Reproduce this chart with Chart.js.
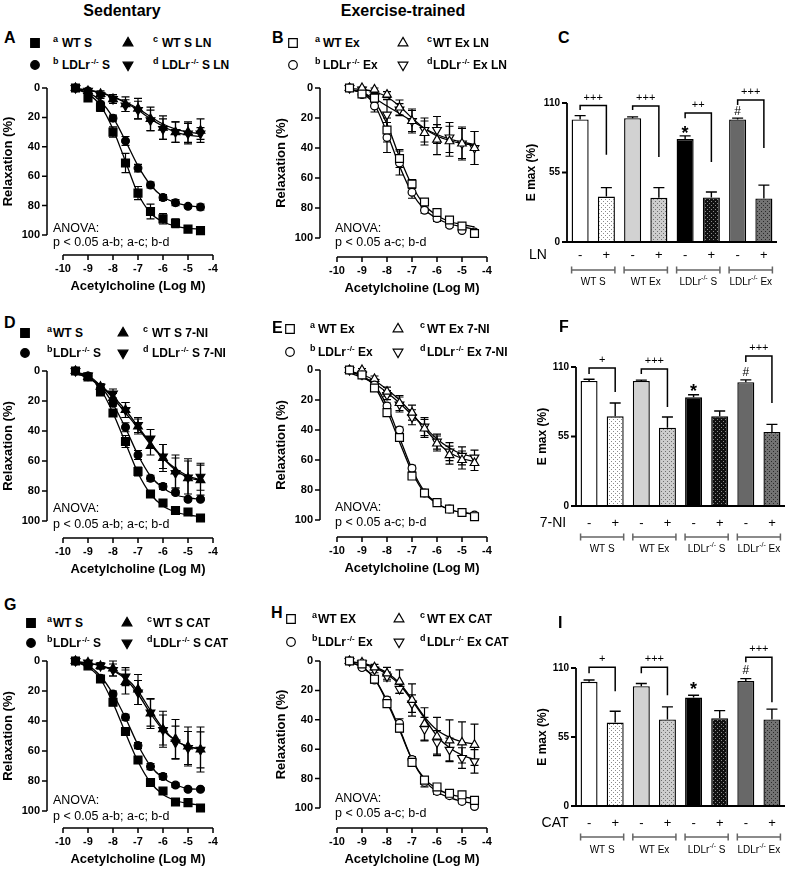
<!DOCTYPE html>
<html>
<head>
<meta charset="utf-8">
<script src="https://cdn.jsdelivr.net/npm/chart.js@4.4.1/dist/chart.umd.min.js"></script>
<style>
  body { margin: 0; background: #fff; }
  #fig { position: relative; width: 785px; height: 870px; overflow: hidden; background: #fff;
         font-family: Arial, 'Liberation Sans', sans-serif; }
  #fig canvas { position: absolute; }
  .t { position: absolute; white-space: nowrap; color: #000; line-height: 1; }
  .sp { font-size: 8px; position: relative; top: -5px; margin-left: 1px; }
</style>
</head>
<body>
<div id="fig"></div>
<script>
// x positions of the concentration-response points (log M)
const logAch = [-9.5, -9, -8.5, -8, -7.5, -7, -6.5, -6, -5.5, -5, -4.5];
const xTicks = [-10, -9, -8, -7, -6, -5, -4];
const yTicks = [0, 20, 40, 60, 80, 100];

// A - sedentary, L-NAME
const aWT = [0, 6.8, 13, 30, 51, 71.5, 84, 89, 92, 96, 97];
const aWTErr = [0, 2, 3, 3.5, 6.5, 4.5, 5, 3.5, 3, 2, 2];
const aWTFit = [1, 4, 12, 28, 50, 72, 85, 91, 94, 95.5, 96];
const aKO = [0, 2, 11, 20.5, 36, 54.5, 66, 74.5, 78, 80.5, 81];
const aKOErr = [0, 1, 2, 2, 3, 2.5, 2, 2, 2, 1, 2];
const aKOFit = [1, 3, 9, 20, 36, 53, 66, 74, 78, 80, 81];
const aWTi = [0, 2, 4, 7.5, 11, 14, 21, 27, 30, 30, 29];
const aWTiErr = [0, 1.5, 2, 3, 5, 7, 8, 8, 7, 7, 8];
const aWTiFit = [0.5, 1.5, 3, 6, 9.5, 14, 19.5, 24.5, 28, 30, 31];
const aKOi = [0, 2, 5, 7.5, 12, 15, 22, 28, 30, 31, 31];
const aKOiErr = [0, 1.5, 2, 3, 4, 6, 7, 7, 7, 7, 4];
const aKOiFit = [0.5, 1.5, 3.5, 6, 10, 15, 21, 26, 30, 32, 33];

// B - exercise-trained, L-NAME
const bWT = [0, 4, 6.7, 28, 47, 64, 76, 83, 88, 92, 97];
const bWTErr = [0, 1, 3, 8, 6, 3, 2, 2, 1.5, 1, 1.5];
const bWTFit = [1, 3, 9, 24, 46, 65, 78, 85, 89, 91, 92.5];
const bKO = [0, 4.4, 12, 33, 50, 69.5, 81.5, 87, 91.5, 95, 96];
const bKOErr = [0, 1, 4, 10, 8, 4, 2, 2, 1.5, 1, 1];
const bKOFit = [1, 3.5, 11, 30, 52, 70, 81, 87, 90.5, 92.5, 94];
const bWTi = [0, 0, 1, 4.4, 13, 22, 30, 34.4, 35.5, 37, 40];
const bWTiErr = [0, 0.5, 1, 2, 5, 7, 8, 10, 10, 11, 11];
const bWTiFit = [0.5, 1, 2.5, 6, 12, 20, 27, 32, 35, 37, 38];
const bKOi = [0, 1, 6, 17.8, 14.4, 22, 28, 28, 33, 37, 40];
const bKOiErr = [0, 1, 3, 10, 4, 8, 8, 9, 10, 10, 11];
const bKOiFit = [1, 3, 7, 12, 17, 22, 27, 31, 34, 36, 37.5];

// D - sedentary, 7-NI
const dWT = [0, 4, 14, 28, 47, 67, 82, 88, 93, 94, 98];
const dWTErr = [0, 1.5, 2, 2, 4, 3, 1.5, 1.5, 1.5, 1, 1];
const dWTFit = [1, 4, 12, 28, 48, 68, 82, 90, 94, 96, 97];
const dKO = [0, 3.3, 11.5, 21.5, 37.5, 56, 71.5, 77, 81, 85.5, 85.5];
const dKOErr = [0, 1, 2, 2, 3, 3, 2, 2, 1.5, 1, 1];
const dKOFit = [1, 3, 10, 22, 38, 56, 70, 78, 82.5, 84.5, 85.5];
const dWTi = [0, 4, 10.5, 18, 26, 37, 50, 58, 67, 71.5, 72.7];
const dWTiErr = [0, 1.5, 2, 3, 5, 5, 6, 9, 11, 13, 10];
const dWTiFit = [1.5, 4.5, 10, 18, 28, 38, 49, 58, 65, 70, 72.5];
const dKOi = [0, 3, 10.5, 15, 26, 36, 45, 57, 68, 71, 70.5];
const dKOiErr = [0, 1.5, 2, 3, 5, 5, 6, 8, 10, 11, 9];
const dKOiFit = [1.5, 4.5, 9.5, 17, 26, 37, 48, 58, 66, 71, 73];

// E - exercise-trained, 7-NI
const eWT = [0, 3.3, 12, 28.4, 45, 70.7, 82, 88.4, 92.7, 95, 97.8];
const eWTErr = [0, 1, 2, 2, 2, 2, 1.5, 1.5, 1, 1, 1];
const eWTFit = [1, 4, 11, 27, 48, 68, 82, 89, 93, 95, 96];
const eKO = [0, 3.3, 10, 24, 40, 65.5, 82, 88.4, 92.7, 95, 96.7];
const eKOErr = [0, 1, 2, 2, 2, 2, 1.5, 1.5, 1, 1, 1];
const eKOFit = [1, 4, 10, 24, 45, 66, 81, 89, 93, 95, 96];
const eWTi = [0, 0, 6, 14.4, 22, 28.4, 39, 49, 56.7, 60, 62];
const eWTiErr = [0, 1, 2, 3, 5, 5, 6, 5, 6, 6, 5];
const eWTiFit = [1, 3, 7, 13, 20, 29, 39, 48, 55, 59, 61];
const eKOi = [0, 3, 8, 16.7, 23, 31.5, 37.8, 47.8, 54.4, 57.3, 58.4];
const eKOiErr = [0, 1, 2, 3, 5, 5, 6, 5, 6, 6, 5];
const eKOiFit = [2, 5, 9, 15, 22, 30, 38, 46, 52, 56, 58];

// G - sedentary, catalase
const gWT = [0, 3.3, 12, 27.5, 47, 66, 81, 86.7, 94, 94.4, 98];
const gWTErr = [0, 1, 1.5, 2, 2.5, 2, 1.5, 1.5, 1, 1, 1];
const gWTFit = [1, 4, 12, 28, 48, 67, 81, 89, 93, 95, 96];
const gKO = [0, 2.7, 11.5, 22, 37.5, 56.4, 70.4, 77, 82.7, 85.5, 85.5];
const gKOErr = [0, 1, 2, 2, 2, 2, 2, 2, 1.5, 1, 1];
const gKOFit = [1, 3, 10, 22, 38, 56, 70, 78, 82.5, 85, 85.5];
const gWTi = [0, 1, 3.3, 5, 14, 19, 35, 45.5, 52, 57, 59];
const gWTiErr = [0, 1, 2, 5, 8, 10, 10, 12, 13, 13, 15];
const gWTiFit = [0.5, 1.5, 3, 6, 11, 20, 33, 45, 53, 57, 59];
const gKOi = [0, 1, 3.3, 6, 10.4, 21, 34.4, 46, 54.4, 58, 59.3];
const gKOiErr = [0, 1, 2, 4, 6, 8, 9, 10, 11, 11, 12];
const gKOiFit = [0.5, 1.5, 3, 6.5, 12, 22, 35, 46, 53, 57, 58.5];

// H - exercise-trained, catalase
const hWT = [0, 2, 12.4, 29, 45.7, 69, 81, 85.7, 90, 91, 94.8];
const hWTErr = [0, 1, 2, 2, 2.5, 2, 2, 2, 1.5, 1.5, 1.5];
const hWTFit = [1, 4, 12, 28, 47, 67, 80, 87, 90.5, 92.5, 93.5];
const hKO = [0, 4.5, 13, 26.5, 42.3, 67, 82.6, 88.7, 91.6, 95.5, 99];
const hKOErr = [0, 1, 2, 2, 3, 2, 3, 2, 1.5, 1.5, 1];
const hKOFit = [1, 4, 12, 27, 46, 67, 81, 89, 93, 95.5, 97];
const hWTi = [0, 1, 4.3, 8.4, 14, 26.5, 42.8, 51.4, 54, 55.4, 57];
const hWTiErr = [0, 1, 2, 4, 8, 11, 11, 13, 14, 14, 14];
const hWTiFit = [0.5, 1.5, 4, 8, 15, 26, 38, 47, 52, 55, 56.5];
const hKOi = [0, 1.6, 6, 10.6, 19, 29, 46.4, 55.4, 60.4, 66, 68.3];
const hKOiErr = [0, 1, 2, 3, 3, 6, 8, 8, 8, 7, 8];
const hKOiFit = [0.5, 2, 4.5, 9, 16, 27, 39, 51, 59, 64, 67];

// Emax bar panels: WT S -/+, WT Ex -/+, LDLr S -/+, LDLr Ex -/+
const barSigns = ['-', '+', '-', '+', '-', '+', '-', '+'];
const barGroups = ['WT S', 'WT Ex', 'LDLr|-/-| S', 'LDLr|-/-| Ex'];
const emaxTicks = [0, 55, 110];
const cEmax = [97, 36, 98, 35, 81.5, 35.3, 97, 34.5];
const cErr = [3, 7, 1, 8, 2.5, 4.3, 1, 10.5];
const fEmax = [99, 71, 99, 62, 86, 71, 98, 58.6];
const fErr = [1.3, 10.5, 0.6, 8.4, 2, 4.2, 1.8, 6];
const iEmax = [99, 66.5, 95.5, 69, 86.5, 70, 99.6, 69];
const iErr = [1.4, 9, 2.2, 10, 1.8, 6, 1.9, 8.2];

// significance brackets (bar indices, y in Emax units)
const cBrackets = [
  { i: 0, j: 1, top: 108, left: 104.5, right: 69, label: '+++' },
  { i: 2, j: 3, top: 107.6, left: 104.5, right: 67.3, label: '+++' },
  { i: 4, j: 5, top: 102, left: 98, right: 63.3, label: '++' },
  { i: 6, j: 7, top: 112.4, left: 108.4, right: 74.4, label: '+++' }
];
const fBrackets = [
  { i: 0, j: 1, top: 109.2, left: 104.5, right: 90.2, label: '+' },
  { i: 2, j: 3, top: 108.4, left: 104.5, right: 78.3, label: '+++' },
  { i: 6, j: 7, top: 118.7, left: 114, right: 81.5, label: '+++' }
];
const iBrackets = [
  { i: 0, j: 1, top: 110.6, left: 105.8, right: 91.4, label: '+' },
  { i: 2, j: 3, top: 110.6, left: 105.8, right: 88.2, label: '+++' },
  { i: 6, j: 7, top: 118.5, left: 114.6, right: 82.7, label: '+++' }
];
const cMarks = [{ i: 4, v: 88.6, s: '*' }, { i: 6, v: 103, s: '#' }];
const fMarks = [{ i: 4, v: 93.4, s: '*' }, { i: 6, v: 105.3, s: '#' }];
const iMarks = [{ i: 4, v: 95.4, s: '*' }, { i: 6, v: 108.2, s: '#' }];

const FONT = "Arial, 'Liberation Sans', sans-serif";
const fig = document.getElementById('fig');

function addCanvas(left, top, w, h) {
  const c = document.createElement('canvas');
  c.width = w; c.height = h;
  c.style.left = left + 'px'; c.style.top = top + 'px';
  c.style.width = w + 'px'; c.style.height = h + 'px';
  fig.appendChild(c);
  return c;
}

function label(x, y, html, css, center) {
  const d = document.createElement('div');
  d.className = 't';
  d.innerHTML = html;
  d.style.cssText += css;
  d.style.left = x + 'px';
  d.style.top = y + 'px';
  d.style.transform = center ? 'translate(-50%,-50%)' : 'translateY(-50%)';
  fig.appendChild(d);
}

// marker shape path, same shapes as the plotted points
function markerPath(g, style, x, y, r) {
  g.beginPath();
  if (style === 'rect') {
    g.rect(x - r, y - r, 2 * r, 2 * r);
  } else if (style === 'circle') {
    g.arc(x, y, r, 0, Math.PI * 2);
  } else {
    const s = style === 'down' ? -1 : 1;
    g.moveTo(x, y - s * r);
    g.lineTo(x + r * 0.87, y + s * r * 0.5);
    g.lineTo(x - r * 0.87, y + s * r * 0.5);
    g.closePath();
  }
}

function legendSymbol(cx, cy, style, filled) {
  const c = addCanvas(cx - 8, cy - 8, 16, 16);
  const g = c.getContext('2d');
  const r = style === 'rect' ? 4.3 : style === 'circle' ? 4.3 : 5.6;
  markerPath(g, style, 8, 8, r);
  g.fillStyle = filled ? '#000' : '#fff';
  g.fill();
  g.strokeStyle = '#000';
  g.lineWidth = 1.2;
  g.stroke();
}

// draw "LDLr|-/-| S" style text with a raised part, centred on cx
function richText(ctx, str, cx, cy, size) {
  const parts = str.split('|');
  const fonts = parts.map((_, k) => (k % 2 ? (size - 3) : size) + 'px ' + FONT);
  let w = 0;
  parts.forEach((s, k) => { ctx.font = fonts[k]; w += ctx.measureText(s).width; });
  let x = cx - w / 2;
  ctx.textAlign = 'left';
  ctx.textBaseline = 'middle';
  parts.forEach((s, k) => {
    ctx.font = fonts[k];
    ctx.fillText(s, x, k % 2 ? cy - 4 : cy);
    x += ctx.measureText(s).width;
  });
}

function curveDeco(p, cl, ct) {
  return {
    id: 'curveDeco',
    beforeDatasetsDraw(chart) {
      const { ctx, scales: { y } } = chart;
      ctx.save();
      ctx.strokeStyle = '#000';
      ctx.lineWidth = 1.2;
      chart.data.datasets.forEach((ds, i) => {
        if (!ds.errs) return;
        chart.getDatasetMeta(i).data.forEach((pt, j) => {
          const e = ds.errs[j];
          if (!e) return;
          const v = ds.data[j].y;
          const y1 = y.getPixelForValue(v - e), y2 = y.getPixelForValue(v + e);
          ctx.beginPath();
          ctx.moveTo(pt.x, y1); ctx.lineTo(pt.x, y2);
          ctx.moveTo(pt.x - 4, y1); ctx.lineTo(pt.x + 4, y1);
          ctx.moveTo(pt.x - 4, y2); ctx.lineTo(pt.x + 4, y2);
          ctx.stroke();
        });
      });
      ctx.restore();
    },
    afterDraw(chart) {
      const { ctx, scales: { x, y } } = chart;
      const ax = p.yAxisX - cl, ay = p.xAxisY - ct;
      ctx.save();
      ctx.strokeStyle = '#000';
      ctx.fillStyle = '#000';
      ctx.lineWidth = 1.5;
      ctx.beginPath();
      ctx.moveTo(ax, y.getPixelForValue(0));
      ctx.lineTo(ax, y.getPixelForValue(100));
      yTicks.forEach(v => { const py = y.getPixelForValue(v); ctx.moveTo(ax - 5, py); ctx.lineTo(ax, py); });
      ctx.moveTo(x.getPixelForValue(-10), ay);
      ctx.lineTo(x.getPixelForValue(-4), ay);
      xTicks.forEach(v => { const px = x.getPixelForValue(v); ctx.moveTo(px, ay); ctx.lineTo(px, ay + 5); });
      ctx.stroke();

      ctx.font = 'bold 11px ' + FONT;
      ctx.textAlign = 'right';
      ctx.textBaseline = 'middle';
      yTicks.forEach(v => ctx.fillText(String(v), ax - 7, y.getPixelForValue(v)));
      ctx.textAlign = 'center';
      ctx.textBaseline = 'top';
      xTicks.forEach(v => ctx.fillText(String(v), x.getPixelForValue(v), ay + 8));

      ctx.font = 'bold 13px ' + FONT;
      ctx.textBaseline = 'middle';
      ctx.fillText('Acetylcholine (Log M)', (x.getPixelForValue(-10) + x.getPixelForValue(-4)) / 2, ay + 31);
      ctx.translate(ax - 39, (y.getPixelForValue(0) + y.getPixelForValue(100)) / 2);
      ctx.rotate(-Math.PI / 2);
      ctx.fillText('Relaxation (%)', 0, 0);
      ctx.restore();
    }
  };
}

function curvePanel(p) {
  const cl = p.col, cw = 255;
  const ct = p.t - 12, ch = p.xAxisY + 42 - ct;
  const cv = addCanvas(cl, ct, cw, ch);
  const styles = [['rect', 0, 5.6], ['circle', 0, 3.9], ['triangle', 0, 5], ['triangle', 180, 5]];
  const fill = p.filled ? '#000' : '#fff';
  const markers = p.series.map((s, k) => ({
    data: logAch.map((x, i) => ({ x, y: s[0][i] })),
    errs: s[1],
    showLine: false,
    pointStyle: styles[k][0],
    pointRotation: styles[k][1],
    pointRadius: styles[k][2],
    pointBackgroundColor: fill,
    pointBorderColor: '#000',
    pointBorderWidth: 1.2,
    clip: false
  }));
  const fits = p.series.map(s => ({
    data: logAch.map((x, i) => ({ x, y: s[2][i] })),
    showLine: true,
    pointRadius: 0,
    borderColor: '#000',
    borderWidth: 1.3,
    cubicInterpolationMode: 'monotone',
    clip: false
  }));
  new Chart(cv, {
    type: 'scatter',
    data: { datasets: markers.concat(fits) },
    options: {
      responsive: false,
      animation: false,
      events: [],
      layout: { padding: { left: p.l - cl, right: cl + cw - p.r, top: p.t - ct, bottom: ct + ch - p.b } },
      scales: {
        x: { type: 'linear', display: false, min: -10, max: -4 },
        y: { display: false, min: 0, max: 100, reverse: true }
      },
      plugins: { legend: { display: false }, tooltip: { enabled: false } }
    },
    plugins: [curveDeco(p, cl, ct)]
  });
}

function dots(bg, dot) {
  const c = document.createElement('canvas');
  c.width = 4; c.height = 4;
  const g = c.getContext('2d');
  g.fillStyle = bg; g.fillRect(0, 0, 4, 4);
  g.fillStyle = dot; g.fillRect(0, 0, 1, 1); g.fillRect(2, 2, 1, 1);
  return g.createPattern(c, 'repeat');
}

function barDeco(p, cl, ct) {
  return {
    id: 'barDeco',
    afterDatasetsDraw(chart) {
      const { ctx, chartArea: ca, scales: { x, y } } = chart;
      const bars = chart.getDatasetMeta(0).data;
      ctx.save();
      ctx.strokeStyle = '#000';
      ctx.fillStyle = '#000';
      ctx.lineWidth = 1.4;
      bars.forEach((bar, i) => {
        const top = y.getPixelForValue(p.vals[i] + p.errs[i]);
        ctx.beginPath();
        ctx.moveTo(bar.x, bar.y); ctx.lineTo(bar.x, top);
        ctx.moveTo(bar.x - 5.5, top); ctx.lineTo(bar.x + 5.5, top);
        ctx.stroke();
      });

      // axes
      const y0 = y.getPixelForValue(0);
      ctx.lineWidth = 1.8;
      ctx.beginPath();
      ctx.moveTo(ca.left, y.getPixelForValue(110));
      ctx.lineTo(ca.left, y0);
      ctx.lineTo(ca.right, y0);
      emaxTicks.forEach(v => { const py = y.getPixelForValue(v); ctx.moveTo(ca.left - 5, py); ctx.lineTo(ca.left, py); });
      ctx.stroke();
      ctx.font = 'bold 10px ' + FONT;
      ctx.textAlign = 'right';
      ctx.textBaseline = 'middle';
      emaxTicks.forEach(v => ctx.fillText(String(v), ca.left - 7, y.getPixelForValue(v)));

      // brackets
      ctx.lineWidth = 1.5;
      ctx.textAlign = 'center';
      p.brackets.forEach(b => {
        const x1 = bars[b.i].x, x2 = bars[b.j].x, yt = y.getPixelForValue(b.top);
        ctx.beginPath();
        ctx.moveTo(x1, y.getPixelForValue(b.left));
        ctx.lineTo(x1, yt); ctx.lineTo(x2, yt);
        ctx.lineTo(x2, y.getPixelForValue(b.right));
        ctx.stroke();
        ctx.font = '11px ' + FONT;
        ctx.fillText(b.label, (x1 + x2) / 2, yt - 8);
      });
      p.marks.forEach(m => {
        ctx.font = m.s === '*' ? 'bold 18px ' + FONT : '12px ' + FONT;
        ctx.fillText(m.s, bars[m.i].x, y.getPixelForValue(m.v) + (m.s === '*' ? 4 : 0));
      });

      // treatment signs and groups
      ctx.font = '13px ' + FONT;
      barSigns.forEach((s, i) => ctx.fillText(s, bars[i].x, y0 + p.signDy));
      ctx.font = '14px ' + FONT;
      ctx.fillText(p.treat, p.treatX - cl, y0 + p.signDy);
      ctx.strokeStyle = '#666';
      ctx.lineWidth = 1.5;
      barGroups.forEach((g, k) => {
        const b1 = bars[2 * k], b2 = bars[2 * k + 1];
        const x1 = b1.x - b1.width / 2, x2 = b2.x + b2.width / 2, gy = y0 + p.grpDy;
        ctx.beginPath();
        ctx.moveTo(x1, gy); ctx.lineTo(x2, gy);
        ctx.moveTo(x1, gy - 3.5); ctx.lineTo(x1, gy + 3.5);
        ctx.moveTo(x2, gy - 3.5); ctx.lineTo(x2, gy + 3.5);
        ctx.stroke();
        richText(ctx, g, (x1 + x2) / 2, y0 + p.grpLblDy, 10);
      });

      ctx.font = 'bold 12px ' + FONT;
      ctx.textAlign = 'center';
      ctx.translate(p.titleX - cl, (y0 + y.getPixelForValue(110)) / 2);
      ctx.rotate(-Math.PI / 2);
      ctx.fillText('E max (%)', 0, 0);
      ctx.restore();
    }
  };
}

function barPanel(p) {
  const cl = 505, cw = 280;
  const ct = p.t - 40, ch = p.b + 56 - ct;
  const cv = addCanvas(cl, ct, cw, ch);
  const fills = [
    '#fff', dots('#fff', '#8a8a8a'),
    '#d2d2d2', dots('#cdcdcd', '#707070'),
    '#000', dots('#111', '#8a8a8a'),
    '#686868', dots('#737373', '#2a2a2a')
  ];
  new Chart(cv, {
    type: 'bar',
    data: {
      labels: barSigns,
      datasets: [{
        data: p.vals,
        backgroundColor: fills,
        borderColor: '#000',
        borderWidth: 1.4,
        barPercentage: 0.65,
        categoryPercentage: 1
      }]
    },
    options: {
      responsive: false,
      animation: false,
      events: [],
      layout: { padding: { left: p.l - cl, right: cl + cw - p.r, top: p.t - ct, bottom: ct + ch - p.b } },
      scales: {
        x: { display: false },
        y: { display: false, min: 0, max: 110 }
      },
      plugins: { legend: { display: false }, tooltip: { enabled: false } }
    },
    plugins: [barDeco(p, cl, ct)]
  });
}

// ---- curve panels ----
curvePanel({ col: 0, l: 63, r: 213, t: 88, b: 235, yAxisX: 47, xAxisY: 255, filled: true,
  series: [[aWT, aWTErr, aWTFit], [aKO, aKOErr, aKOFit], [aWTi, aWTiErr, aWTiFit], [aKOi, aKOiErr, aKOiFit]] });
curvePanel({ col: 240, l: 337, r: 487, t: 88, b: 238, yAxisX: 320, xAxisY: 257, filled: false,
  series: [[bWT, bWTErr, bWTFit], [bKO, bKOErr, bKOFit], [bWTi, bWTiErr, bWTiFit], [bKOi, bKOiErr, bKOiFit]] });
curvePanel({ col: 0, l: 63, r: 213, t: 371, b: 521, yAxisX: 47, xAxisY: 538, filled: true,
  series: [[dWT, dWTErr, dWTFit], [dKO, dKOErr, dKOFit], [dWTi, dWTiErr, dWTiFit], [dKOi, dKOiErr, dKOiFit]] });
curvePanel({ col: 240, l: 337, r: 487, t: 370, b: 520, yAxisX: 320, xAxisY: 537, filled: false,
  series: [[eWT, eWTErr, eWTFit], [eKO, eKOErr, eKOFit], [eWTi, eWTiErr, eWTiFit], [eKOi, eKOiErr, eKOiFit]] });
curvePanel({ col: 0, l: 63, r: 213, t: 661, b: 811, yAxisX: 47, xAxisY: 828, filled: true,
  series: [[gWT, gWTErr, gWTFit], [gKO, gKOErr, gKOFit], [gWTi, gWTiErr, gWTiFit], [gKOi, gKOiErr, gKOiFit]] });
curvePanel({ col: 240, l: 337, r: 487, t: 661, b: 808, yAxisX: 320, xAxisY: 828, filled: false,
  series: [[hWT, hWTErr, hWTFit], [hKO, hKOErr, hKOFit], [hWTi, hWTiErr, hWTiFit], [hKOi, hKOiErr, hKOiFit]] });

// ---- bar panels ----
barPanel({ l: 567, r: 777, t: 103, b: 242, vals: cEmax, errs: cErr, brackets: cBrackets, marks: cMarks,
  treat: 'LN', treatX: 538, titleX: 532, signDy: 13, grpDy: 28, grpLblDy: 40 });
barPanel({ l: 576, r: 785, t: 367, b: 506, vals: fEmax, errs: fErr, brackets: fBrackets, marks: fMarks,
  treat: '7-NI', treatX: 553, titleX: 543, signDy: 17, grpDy: 31, grpLblDy: 43 });
barPanel({ l: 576, r: 785, t: 668, b: 806, vals: iEmax, errs: iErr, brackets: iBrackets, marks: iMarks,
  treat: 'CAT', treatX: 555, titleX: 543, signDy: 17, grpDy: 31, grpLblDy: 44 });

// ---- titles, panel letters, legends, ANOVA notes ----
const bold16 = 'font-weight:bold;font-size:16px;';
label(122, 11, 'Sedentary', bold16, true);
label(403, 11, 'Exercise-trained', bold16, true);
[['A', 4, 38], ['B', 272, 38], ['C', 558, 38], ['D', 4, 323], ['E', 272, 328], ['F', 559, 327],
 ['G', 4, 605], ['H', 271, 613], ['I', 558, 623]].forEach(([s, x, y]) => label(x, y, s, bold16));

const KO = 'LDLr<span class="sp">-/-</span>';
const legends = [
  { pos: [35, 53, 62, 128, 153, 162, 43, 65], filled: true, items: ['WT S', KO + ' S', 'WT S LN', KO + ' S LN'] },
  { pos: [293, 315, 323, 403, 427, 433, 43, 65], filled: false, items: ['WT Ex', KO + ' Ex', 'WT Ex LN', KO + ' Ex LN'] },
  { pos: [25, 47, 53, 123, 143, 152, 333, 353], filled: true, items: ['WT S', KO + ' S', 'WT S 7-NI', KO + ' S 7-NI'] },
  { pos: [290, 310, 318, 398, 420, 427, 329, 352], filled: false, items: ['WT Ex', KO + ' Ex', 'WT Ex 7-NI', KO + ' Ex 7-NI'] },
  { pos: [31, 47, 53, 127, 147, 153, 623, 643], filled: true, items: ['WT S', KO + ' S', 'WT S CAT', KO + ' S CAT'] },
  { pos: [291, 312, 318, 399, 420, 427, 619, 642], filled: false, items: ['WT EX', KO + ' Ex', 'WT EX CAT', KO + ' Ex CAT'] }
];
const legendShapes = ['rect', 'circle', 'up', 'down'];
legends.forEach(lg => {
  const [s1, p1, t1, s2, p2, t2, y1, y2] = lg.pos;
  const cells = [[s1, p1, t1, y1], [s1, p1, t1, y2], [s2, p2, t2, y1], [s2, p2, t2, y2]];
  cells.forEach(([sx, px, tx, y], k) => {
    legendSymbol(sx, y, legendShapes[k], lg.filled);
    label(px, y - 4, 'abcd'[k], 'font-weight:bold;font-size:9px;');
    label(tx, y, lg.items[k], 'font-weight:bold;font-size:12px;');
  });
});

const anova = [
  [53, 228, 242, 'p &lt; 0.05 a-b; a-c; b-d'],
  [335, 228, 242, 'p &lt; 0.05 a-c; b-d'],
  [53, 508, 524, 'p &lt; 0.05 a-b; a-c; b-d'],
  [335, 507, 522, 'p &lt; 0.05 a-c; b-d'],
  [53, 800, 816, 'p &lt; 0.05 a-b; a-c; b-d'],
  [335, 798, 813, 'p &lt; 0.05 a-c; b-d']
];
anova.forEach(([x, y1, y2, s]) => {
  label(x, y1, 'ANOVA:', 'font-size:12.5px;');
  label(x, y2, s, 'font-size:12.5px;');
});
</script>
</body>
</html>
